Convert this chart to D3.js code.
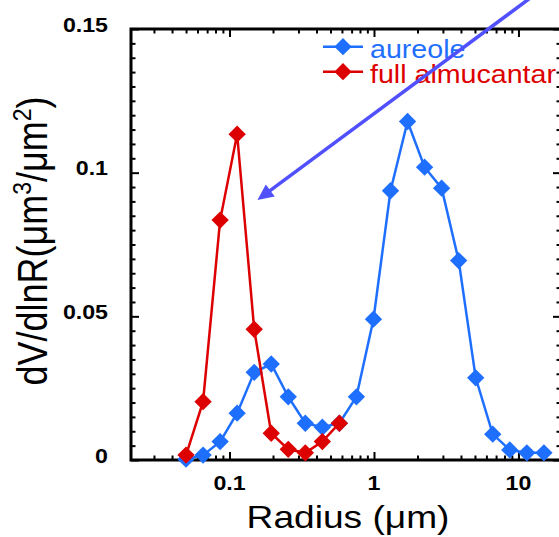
<!DOCTYPE html>
<html>
<head>
<meta charset="utf-8">
<script src="https://cdn.jsdelivr.net/npm/d3@7/dist/d3.min.js"></script>
<style>
  html, body { margin: 0; padding: 0; background: #fff; overflow: hidden; }
  text { font-family: "Liberation Sans", Arial, Helvetica, sans-serif; }
</style>
</head>
<body>
<svg id="chart" width="559" height="537"></svg>
<script>
// Particle radius bins (µm) of the retrieved volume size distribution
const radius = [0.05, 0.0656, 0.0861, 0.1129, 0.1482, 0.1944, 0.2551, 0.3347, 0.4391, 0.5761,
                0.7558, 0.9917, 1.3012, 1.7072, 2.24, 2.939, 3.856, 5.0592, 6.638, 8.7094, 11.4272, 15.0];
// dV/dlnR for the aureole-only retrieval
const aureole = [0.0003, 0.0017, 0.0064, 0.0163, 0.0305, 0.0334, 0.022, 0.0128, 0.0114, 0.0128,
                 0.022, 0.049, 0.0937, 0.1178, 0.1019, 0.0946, 0.0694, 0.0286, 0.009, 0.0035, 0.0025, 0.0025];
// dV/dlnR for the full almucantar retrieval (first ten bins)
const almucantar = [0.0017, 0.0203, 0.0835, 0.1134, 0.0455, 0.0093, 0.0037, 0.0025, 0.0064, 0.0128];

const seriesNames = ["aureole", "full almucantar"];
const seriesColors = ["#1f6fff", "#dd0000"];

const xMajorTicks = [0.1, 1, 10];
const xTickLabels = ["0.1", "1", "10"];
const yMajorTicks = [0, 0.05, 0.1, 0.15];
const yTickLabels = ["0", "0.05", "0.1", "0.15"];

// Arrow annotation, in data units (radius, dV/dlnR)
const arrowFrom = [13, 0.162];
const arrowTo = [0.156, 0.0905];

const svg = d3.select("#chart");
const plotLeft = 131, plotRight = 561, plotTop = 29, plotBottom = 460;

const x = d3.scaleLog().domain([0.0208, 19.7]).range([plotLeft, plotRight]);
const y = d3.scaleLinear().domain([0, 0.15]).range([plotBottom, plotTop]);

const stretch = 1.16;

// minor tick values
const xMinor = [];
[0.01, 0.1, 1, 10].forEach(d => { for (let k = 2; k <= 9; k++) { const v = d * k; if (v > x.domain()[0] && v < x.domain()[1]) xMinor.push(v); } });
const yMinor = d3.range(0, 0.1501, 0.005).filter(v => !yMajorTicks.some(m => Math.abs(m - v) < 1e-9));

function drawAxis(axisGen, translate, ticks, size) {
  const g = svg.append("g").attr("transform", translate)
    .call(axisGen.tickValues(ticks).tickSize(size).tickFormat(""));
  g.select(".domain").remove();
  g.selectAll(".tick line").attr("stroke", "#000").attr("stroke-width", 2);
  return g;
}

// ticks point inward on all four sides
drawAxis(d3.axisBottom(x), `translate(0,${plotBottom})`, xMinor, -4.5);
drawAxis(d3.axisBottom(x), `translate(0,${plotBottom})`, xMajorTicks, -8);
drawAxis(d3.axisTop(x), `translate(0,${plotTop})`, xMinor, -4.5);
drawAxis(d3.axisTop(x), `translate(0,${plotTop})`, xMajorTicks, -8);
drawAxis(d3.axisLeft(y), `translate(${plotLeft},0)`, yMinor, -4.5);
drawAxis(d3.axisLeft(y), `translate(${plotLeft},0)`, yMajorTicks, -8);
drawAxis(d3.axisRight(y), `translate(${plotRight},0)`, yMinor, -4.5);
drawAxis(d3.axisRight(y), `translate(${plotRight},0)`, yMajorTicks, -8);

// frame
svg.append("rect").attr("x", plotLeft).attr("y", plotTop)
  .attr("width", plotRight - plotLeft).attr("height", plotBottom - plotTop)
  .attr("fill", "none").attr("stroke", "#000").attr("stroke-width", 3);

// tick labels
yMajorTicks.forEach((v, i) => {
  svg.append("text")
    .attr("transform", `translate(108,${y(v) + 2.5}) scale(${stretch},1)`)
    .attr("text-anchor", "end").attr("font-size", 20).attr("font-weight", "bold")
    .text(yTickLabels[i]);
});
xMajorTicks.forEach((v, i) => {
  svg.append("text")
    .attr("transform", `translate(${x(v)},490) scale(${stretch},1)`)
    .attr("text-anchor", "middle").attr("font-size", 20).attr("font-weight", "bold")
    .text(xTickLabels[i]);
});

// axis titles
svg.append("text")
  .attr("transform", `translate(348,528) scale(${stretch},1)`)
  .attr("text-anchor", "middle").attr("font-size", 32)
  .text("Radius (\u03bcm)");

const yt = svg.append("text")
  .attr("transform", `translate(47,241) scale(${stretch},1) rotate(-90)`)
  .attr("text-anchor", "middle").attr("font-size", 36);
yt.append("tspan").text("dV/dlnR(\u03bcm");
yt.append("tspan").attr("font-size", 23).attr("dy", -14).text("3");
yt.append("tspan").attr("dy", 14).text("/\u03bcm");
yt.append("tspan").attr("font-size", 23).attr("dy", -14).text("2");
yt.append("tspan").attr("dy", 14).text(")");

// series
const diamond = d3.symbol().type(d3.symbolSquare).size(150);
const series = [
  { name: seriesNames[0], color: seriesColors[0], values: aureole },
  { name: seriesNames[1], color: seriesColors[1], values: almucantar }
];
const line = d3.line().x(d => x(d[0])).y(d => y(d[1]));
series.forEach(s => {
  const pts = s.values.map((v, i) => [radius[i], v]);
  svg.append("path").datum(pts).attr("d", line)
    .attr("fill", "none").attr("stroke", s.color).attr("stroke-width", 2.5);
  svg.append("g").selectAll("path").data(pts).join("path")
    .attr("d", diamond)
    .attr("transform", d => `translate(${x(d[0])},${y(d[1])}) rotate(45)`)
    .attr("fill", s.color);
});

// legend
series.forEach((s, i) => {
  const ly = 46.7 + i * 25;
  svg.append("line").attr("x1", 323).attr("x2", 363).attr("y1", ly).attr("y2", ly)
    .attr("stroke", s.color).attr("stroke-width", 2.5);
  svg.append("path").attr("d", diamond)
    .attr("transform", `translate(343,${ly}) rotate(45)`).attr("fill", s.color);
  svg.append("text")
    .attr("transform", `translate(370,${ly + 11}) scale(1.1,1)`)
    .attr("font-size", 26).attr("fill", s.color).text(s.name);
});

// arrow annotation
const ax0 = x(arrowFrom[0]), ay0 = y(arrowFrom[1]);
const ax1 = x(arrowTo[0]), ay1 = y(arrowTo[1]);
const len = Math.hypot(ax1 - ax0, ay1 - ay0);
const ux = (ax1 - ax0) / len, uy = (ay1 - ay0) / len;
const headLen = 16, headHalf = 7.5;
const bx = ax1 - ux * headLen, by = ay1 - uy * headLen;
const arrowColor = "#5050ff";
svg.append("line").attr("x1", ax0).attr("y1", ay0).attr("x2", bx + ux * 2).attr("y2", by + uy * 2)
  .attr("stroke", arrowColor).attr("stroke-width", 3.5);
svg.append("path")
  .attr("d", `M${ax1},${ay1}L${bx - uy * headHalf},${by + ux * headHalf}L${bx + uy * headHalf},${by - ux * headHalf}Z`)
  .attr("fill", arrowColor);
</script>
</body>
</html>
